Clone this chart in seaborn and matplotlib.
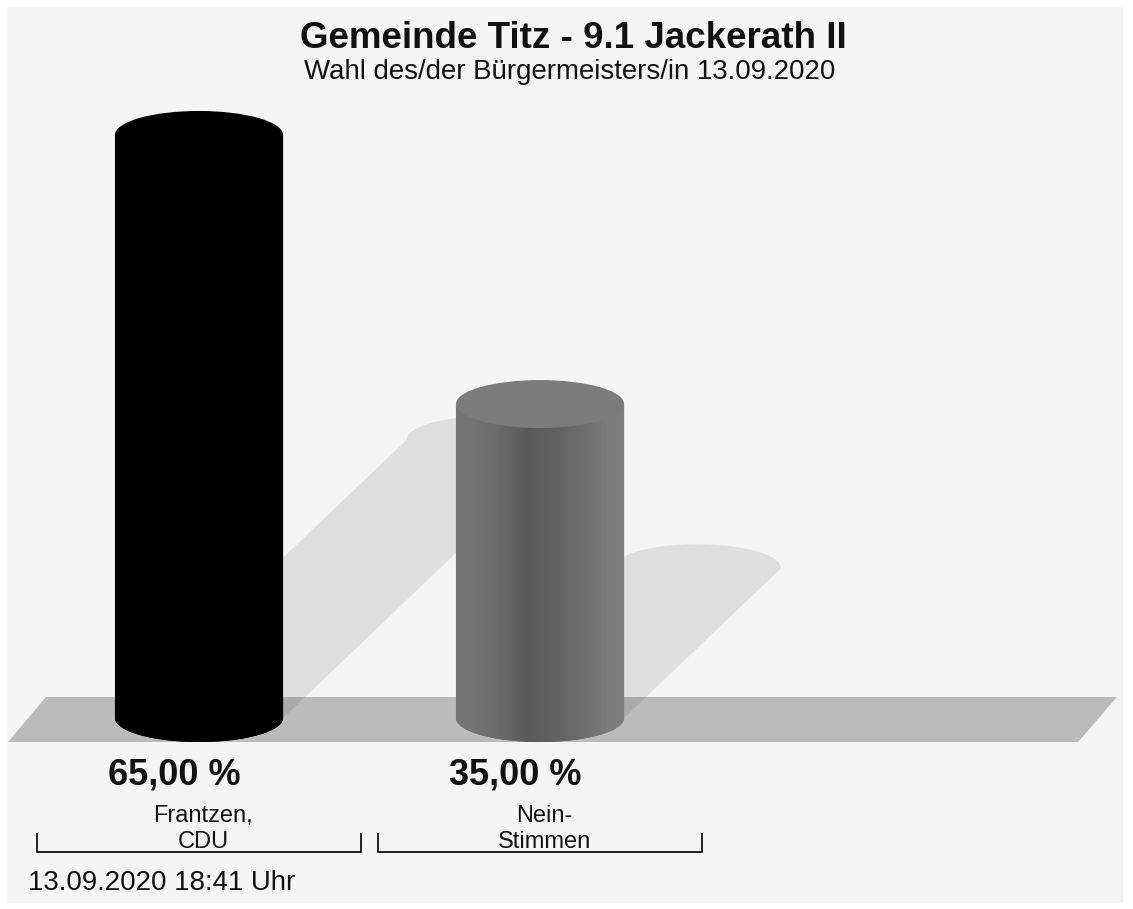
import matplotlib.pyplot as plt
import numpy as np
import seaborn as sns
from matplotlib.patches import Polygon, Ellipse, Rectangle

# data
candidates = ['Frantzen,\nCDU', 'Nein-\nStimmen']
shares = [65.00, 35.00]
title = 'Gemeinde Titz - 9.1 Jackerath II'
subtitle = 'Wahl des/der Bürgermeisters/in 13.09.2020'
timestamp = '13.09.2020 18:41 Uhr'

# colours of the cylinders
bar_colors = ['#000000', '#6a6a6a']
top_colors = ['#000000', '#7b7b7b']
# grey levels across each cylinder, left to right
shading = [
    [0, 0, 0, 0, 0, 0],
    [0x75, 0x6b, 0x5a, 0x60, 0x6e, 0x7d],
]

plt.rcParams['font.family'] = ['Liberation Sans', 'DejaVu Sans']

W, H = 1133, 909
fig = plt.figure(figsize=(W / 100, H / 100), dpi=100)
fig.patch.set_facecolor('white')
fig.add_artist(Rectangle((7 / W, 6 / H), 1116 / W, 896 / H, transform=fig.transFigure,
                         facecolor='#f5f5f5', edgecolor='none', zorder=-5))

ax = fig.add_axes([0, 0, 1, 1])
ax.axis('off')

sns.barplot(x=candidates, y=shares, hue=candidates, palette=bar_colors,
            width=0.493, legend=False, ax=ax, saturation=1)

# pixel scale of the axes: category step and one percent
px_cat, px_pct = 341.0, 8.97
base_x, base_y = 199.0, 718.0
ax.set_xlim(-base_x / px_cat, (W - base_x) / px_cat)
ax.set_ylim(-(H - base_y) / px_pct, base_y / px_pct)

ry = 24 / px_pct  # half height of the ellipses, in percent units

bars = [p for p in ax.patches if isinstance(p, Rectangle)]

# floor
floor = Polygon([(-0.560, -ry), (2.578, -ry), (2.692, 2.34), (-0.449, 2.34)],
                closed=True, facecolor='#bbbbbb', edgecolor='none', zorder=1)
ax.add_patch(floor)

for i, bar in enumerate(bars):
    x0, w, h = bar.get_x(), bar.get_width(), bar.get_height()
    cx, rx = x0 + w / 2, w / 2
    bar.set_zorder(3)

    # shadow thrown up and to the right
    scx, scy = cx + 0.5 * h * px_pct / px_cat, 0.477 * h
    t_top = np.linspace(0, np.pi, 60)
    t_bot = np.linspace(np.pi, 2 * np.pi, 60)
    pts = [(scx + rx * np.cos(t), scy + ry * np.sin(t)) for t in t_top]
    pts += [(cx + rx * np.cos(t), ry * np.sin(t)) for t in t_bot]
    ax.add_patch(Polygon(pts, closed=True, facecolor='black', alpha=0.09,
                         edgecolor='none', zorder=2))

    # cylinder body with rounded bottom
    body_pts = [(x0, h)] + [(cx + rx * np.cos(t), ry * np.sin(t)) for t in t_bot] + [(x0 + w, h)]
    body = Polygon(body_pts, closed=True, facecolor=bar_colors[i], edgecolor='none', zorder=3)
    ax.add_patch(body)
    grad = np.array(shading[i], dtype=float)[None, :] / 255
    im = ax.imshow(grad, cmap='gray', vmin=0, vmax=1, extent=(x0, x0 + w, -ry, h),
                   aspect='auto', interpolation='bilinear', zorder=3.5)
    im.set_clip_path(body)

    # top of the cylinder
    ax.add_patch(Ellipse((cx, h), w, 2 * ry, facecolor=top_colors[i], edgecolor='none', zorder=4))

    # value label
    ax.text(cx - 0.073, -(775 - base_y) / px_pct, f'{shares[i]:.2f} %'.replace('.', ','),
            ha='center', va='center', fontsize=26, fontweight='bold', color='#111111')
    # category label
    ax.text(cx + 0.012, -(829 - base_y) / px_pct, candidates[i], ha='center', va='center',
            fontsize=17, linespacing=1.18, color='#111111')
    # bracket under the category
    half = 0.4765
    yl, yt = -(852 - base_y) / px_pct, -(833 - base_y) / px_pct
    ax.plot([cx - half, cx - half, cx + half, cx + half], [yt, yl, yl, yt],
            color='#111111', lw=1.3, solid_capstyle='butt', zorder=5)

ax.set_xlim(-base_x / px_cat, (W - base_x) / px_cat)
ax.set_ylim(-(H - base_y) / px_pct, base_y / px_pct)

fig.text(573 / W, 1 - 38 / H, title, ha='center', va='center', fontsize=26.5,
         fontweight='bold', color='#111111')
fig.text(570 / W, 1 - 72 / H, subtitle, ha='center', va='center', fontsize=19.9,
         color='#111111')
fig.text(28 / W, 1 - 883 / H, timestamp, ha='left', va='center', fontsize=19.9,
         color='#111111')

fig.savefig('out.png', dpi=100, facecolor=fig.get_facecolor())
